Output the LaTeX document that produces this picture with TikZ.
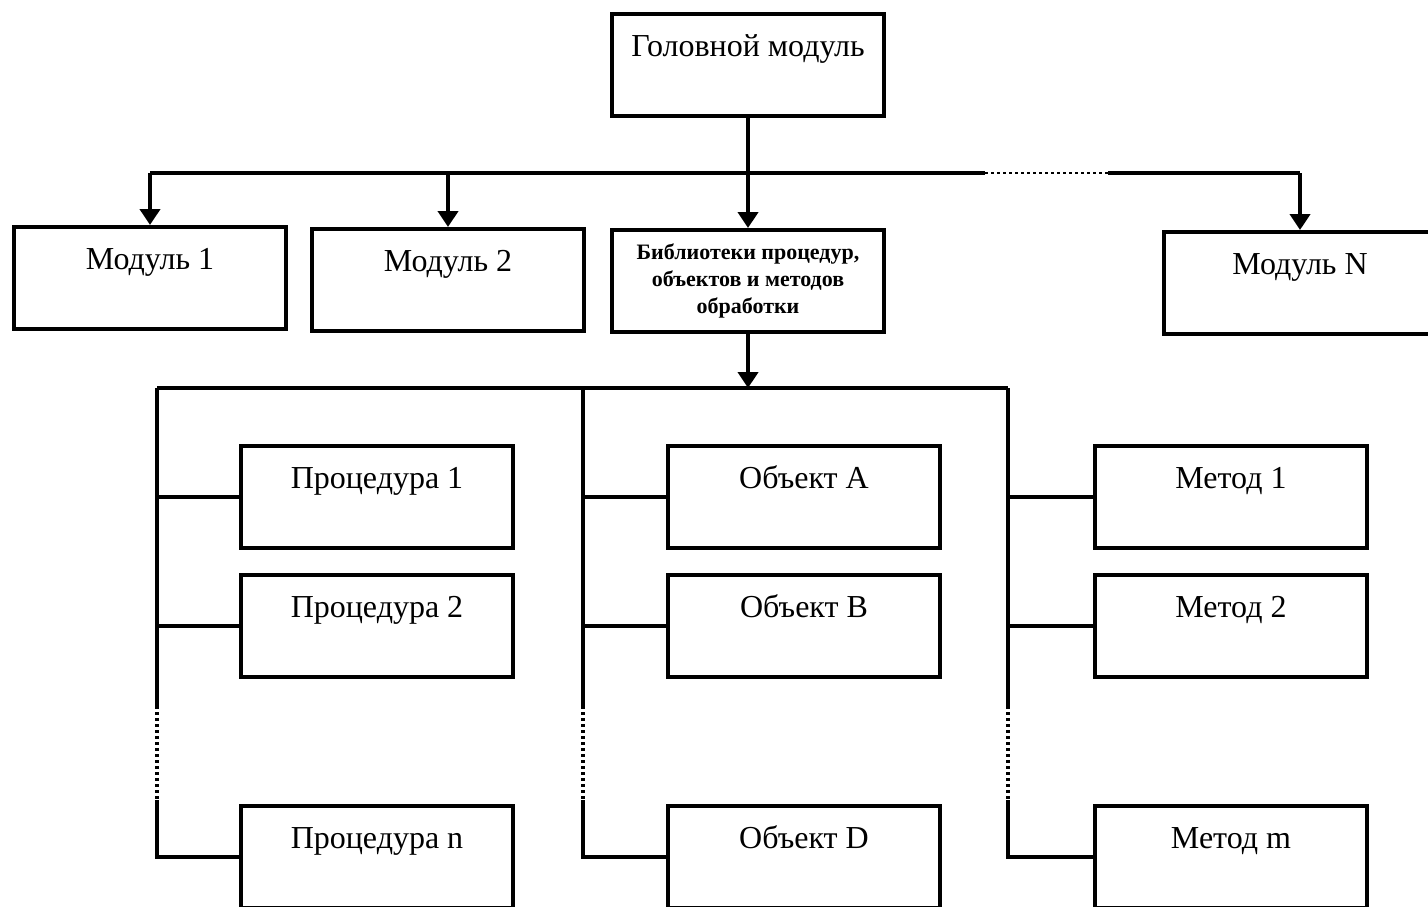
\documentclass[tikz,border=0pt]{standalone}
\usepackage{fontspec}
\setmainfont{Liberation Serif}
\usetikzlibrary{arrows.meta, calc}

\tikzset{
    box/.style={draw, line width=2pt, minimum width=136pt, inner sep=0pt,
        text height=21pt, text depth=30pt, font=\fontsize{16}{19}\selectfont},
    libbox/.style={draw, line width=2pt, minimum width=136pt, minimum height=51pt,
        inner sep=0pt, align=center, font=\fontsize{11}{13.5}\selectfont\bfseries},
    wire/.style={line width=2pt},
    arr/.style={wire, -{Triangle[width=10pt, length=8pt]}},
    dots/.style={line width=2pt, dash pattern=on 1.5pt off 1.5pt}
}

\begin{document}
\begin{tikzpicture}[x=0.5pt, y=-0.5pt]

\useasboundingbox (0,0) rectangle (1428,906);

% Top level
\node[box] (head) at (748,65) {Головной модуль};

\node[box] (m1) at (150,278) {Модуль 1};
\node[box] (m2) at (448,280) {Модуль 2};
\node[libbox] (lib) at (748,281) {Библиотеки процедур,\\объектов и методов\\обработки};
\node[box] (mN) at (1300,283) {Модуль N};

% Upper bus
\coordinate (bus) at (0,173);
\coordinate (dotA) at (985,173);
\coordinate (dotB) at (1108,173);
\draw[wire] (m1.north |- bus) -- (dotA);
\draw[dots, line width=1.2pt] (dotA) -- (dotB);
\draw[wire] (dotB) -- (mN.north |- bus);
\draw[arr] (head.south) -- (lib.north);
\draw[arr] (m1.north |- bus) -- (m1.north);
\draw[arr] (m2.north |- bus) -- (m2.north);
\draw[arr] (mN.north |- bus) -- (mN.north);

% Lower bus
\coordinate (bus2) at (0,388);
\coordinate (spP) at (157,388);
\coordinate (spO) at (583,388);
\coordinate (spM) at (1008,388);
\draw[arr] (lib.south) -- (lib.south |- bus2);
\draw[wire] (spP) -- (spM);

% Columns of boxes
\foreach \col/\bx/\a/\b/\c in {spP/377/Процедура 1/Процедура 2/Процедура n,
                               spO/804/Объект A/Объект B/Объект D,
                               spM/1231/Метод 1/Метод 2/Метод m} {
    \node[box] (\col1) at (\bx,497) {\a};
    \node[box] (\col2) at (\bx,626) {\b};
    \node[box] (\col3) at (\bx,857) {\c};
    \coordinate (\col dA) at ($(\col)+(0,318)$);
    \coordinate (\col dB) at ($(\col)+(0,412)$);
    \draw[wire] (\col) -- (\col dA);
    \draw[dots] (\col dA) -- (\col dB);
    \draw[wire] (\col dB) |- (\col3.west);
    \draw[wire] (\col1.west) -- (\col1.west -| \col);
    \draw[wire] (\col2.west) -- (\col2.west -| \col);
}

\end{tikzpicture}
\end{document}
